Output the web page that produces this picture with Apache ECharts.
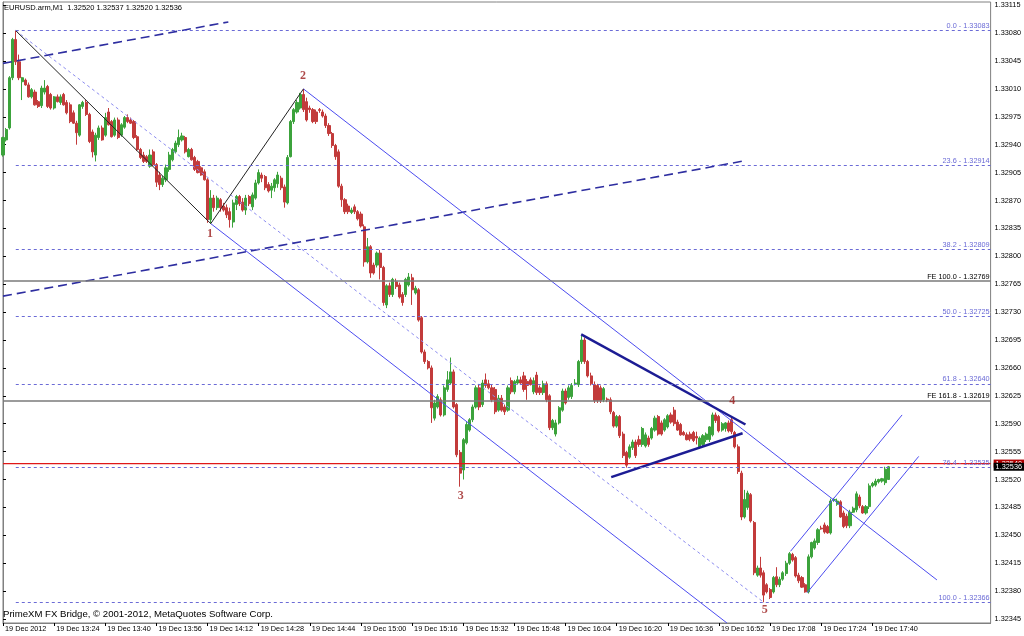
<!DOCTYPE html>
<html><head><meta charset="utf-8">
<script src="https://cdn.jsdelivr.net/npm/echarts@6/dist/echarts.min.js"></script>
<style>html,body{margin:0;padding:0;background:#fff}#c{width:1024px;height:636px}</style>
</head><body><div id="c"></div>
<script>
// ---------- DATA ----------
const symbolTitle = 'EURUSD.arm,M1  1.32520 1.32537 1.32520 1.32536';
const footerText = 'PrimeXM FX Bridge, \u00a9 2001-2012, MetaQuotes Software Corp.';
const startMinute = 13 * 60 + 8;   // first bar 13:08
const totalBars = 310;             // visible bar slots incl. right margin
const timeLabels = ['19 Dec 2012','19 Dec 13:24','19 Dec 13:40','19 Dec 13:56','19 Dec 14:12','19 Dec 14:28',
  '19 Dec 14:44','19 Dec 15:00','19 Dec 15:16','19 Dec 15:32','19 Dec 15:48','19 Dec 16:04','19 Dec 16:20',
  '19 Dec 16:36','19 Dec 16:52','19 Dec 17:08','19 Dec 17:24','19 Dec 17:40'];
const labelEvery = 16;
const yTicks = [1.32345,1.32380,1.32415,1.32450,1.32485,1.32520,1.32555,1.32590,1.32625,1.32660,1.32695,1.32730,
  1.32765,1.32800,1.32835,1.32870,1.32905,1.32940,1.32975,1.33010,1.33045,1.33080,1.33115];
const yMin = 1.32340, yMax = 1.33119;

// candles: [open, high, low, close], one per minute from 13:08
const candles = [
[1.32927,1.32950,1.32925,1.32949],[1.32946,1.32961,1.32944,1.32959],[1.32961,1.33026,1.32959,1.33024],[1.33024,1.33074,1.33021,1.33072],
[1.33072,1.33083,1.33040,1.33044],[1.33044,1.33053,1.33021,1.33024],[1.33019,1.33025,1.32996,1.33024],[1.33021,1.33023,1.33014,1.33015],
[1.33015,1.33018,1.32999,1.33000],[1.33000,1.33011,1.32998,1.33009],[1.33006,1.33009,1.32989,1.32990],[1.32994,1.32996,1.32986,1.32988],
[1.32989,1.33014,1.32986,1.33011],[1.33006,1.33021,1.33003,1.33011],[1.33013,1.33015,1.32986,1.32988],[1.33003,1.33005,1.32984,1.32986],
[1.32986,1.33001,1.32984,1.33000],[1.33000,1.33003,1.32993,1.32994],[1.32993,1.33003,1.32990,1.33000],[1.33003,1.33005,1.32989,1.32990],
[1.32993,1.32996,1.32978,1.32980],[1.32990,1.32993,1.32967,1.32969],[1.32980,1.32983,1.32966,1.32967],[1.32967,1.32970,1.32940,1.32955],
[1.32952,1.32991,1.32950,1.32990],[1.32988,1.32995,1.32985,1.32993],[1.32993,1.32996,1.32976,1.32978],[1.32978,1.32980,1.32942,1.32944],
[1.32956,1.32959,1.32924,1.32931],[1.32927,1.32955,1.32919,1.32952],[1.32949,1.32964,1.32946,1.32961],[1.32961,1.32964,1.32945,1.32946],
[1.32952,1.32980,1.32950,1.32974],[1.32981,1.32986,1.32964,1.32965],[1.32969,1.32971,1.32949,1.32950],[1.32952,1.32974,1.32950,1.32971],
[1.32971,1.32974,1.32947,1.32949],[1.32952,1.32967,1.32950,1.32965],[1.32962,1.32976,1.32960,1.32974],[1.32974,1.32978,1.32967,1.32969],
[1.32971,1.32974,1.32966,1.32967],[1.32969,1.32971,1.32947,1.32949],[1.32950,1.32952,1.32932,1.32934],[1.32934,1.32936,1.32922,1.32924],
[1.32927,1.32931,1.32917,1.32919],[1.32925,1.32927,1.32917,1.32919],[1.32913,1.32934,1.32911,1.32927],[1.32931,1.32934,1.32913,1.32915],
[1.32915,1.32917,1.32887,1.32893],[1.32902,1.32906,1.32883,1.32890],[1.32890,1.32901,1.32887,1.32898],[1.32896,1.32915,1.32893,1.32911],
[1.32909,1.32931,1.32906,1.32927],[1.32921,1.32936,1.32919,1.32934],[1.32931,1.32945,1.32929,1.32942],[1.32940,1.32959,1.32937,1.32949],
[1.32946,1.32955,1.32944,1.32951],[1.32949,1.32951,1.32929,1.32931],[1.32925,1.32936,1.32924,1.32934],[1.32934,1.32936,1.32920,1.32921],
[1.32924,1.32926,1.32907,1.32909],[1.32919,1.32921,1.32904,1.32905],[1.32911,1.32913,1.32901,1.32902],[1.32906,1.32909,1.32895,1.32896],
[1.32896,1.32898,1.32842,1.32846],[1.32846,1.32883,1.32841,1.32873],[1.32873,1.32877,1.32856,1.32861],[1.32861,1.32876,1.32858,1.32873],
[1.32871,1.32873,1.32856,1.32861],[1.32863,1.32867,1.32856,1.32858],[1.32861,1.32865,1.32848,1.32852],[1.32856,1.32861,1.32836,1.32846],
[1.32843,1.32871,1.32836,1.32867],[1.32865,1.32877,1.32858,1.32875],[1.32875,1.32877,1.32863,1.32866],[1.32868,1.32873,1.32856,1.32858],
[1.32858,1.32877,1.32852,1.32873],[1.32875,1.32877,1.32863,1.32866],[1.32862,1.32880,1.32858,1.32877],[1.32873,1.32896,1.32871,1.32892],
[1.32892,1.32909,1.32890,1.32905],[1.32902,1.32905,1.32893,1.32898],[1.32900,1.32902,1.32883,1.32886],[1.32890,1.32893,1.32880,1.32882],
[1.32883,1.32892,1.32873,1.32888],[1.32886,1.32898,1.32881,1.32896],[1.32891,1.32906,1.32886,1.32902],[1.32898,1.32901,1.32883,1.32886],
[1.32887,1.32890,1.32861,1.32868],[1.32867,1.32927,1.32865,1.32924],[1.32925,1.32971,1.32924,1.32969],[1.32969,1.32986,1.32966,1.32984],
[1.32981,1.32996,1.32979,1.32993],[1.32986,1.33005,1.32984,1.33003],[1.33003,1.33010,1.32981,1.32984],[1.32994,1.32999,1.32969,1.32971],
[1.32986,1.32989,1.32980,1.32984],[1.32984,1.32986,1.32967,1.32969],[1.32981,1.32984,1.32966,1.32969],[1.32984,1.32986,1.32980,1.32983],
[1.32981,1.32984,1.32974,1.32976],[1.32976,1.32979,1.32961,1.32964],[1.32964,1.32967,1.32951,1.32954],[1.32954,1.32956,1.32936,1.32939],
[1.32939,1.32941,1.32921,1.32925],[1.32931,1.32934,1.32886,1.32888],[1.32888,1.32891,1.32862,1.32871],[1.32871,1.32873,1.32853,1.32856],
[1.32863,1.32866,1.32853,1.32856],[1.32855,1.32861,1.32853,1.32858],[1.32862,1.32865,1.32853,1.32856],[1.32856,1.32858,1.32845,1.32847],
[1.32853,1.32856,1.32836,1.32838],[1.32837,1.32840,1.32787,1.32793],[1.32793,1.32823,1.32791,1.32812],[1.32812,1.32814,1.32773,1.32779],
[1.32789,1.32792,1.32777,1.32779],[1.32789,1.32806,1.32786,1.32804],[1.32804,1.32808,1.32771,1.32786],[1.32786,1.32788,1.32738,1.32742],
[1.32739,1.32765,1.32735,1.32763],[1.32763,1.32767,1.32749,1.32752],[1.32752,1.32773,1.32749,1.32771],[1.32768,1.32772,1.32759,1.32762],
[1.32764,1.32767,1.32747,1.32749],[1.32752,1.32755,1.32738,1.32742],[1.32752,1.32773,1.32749,1.32771],[1.32764,1.32779,1.32762,1.32774],
[1.32773,1.32778,1.32739,1.32758],[1.32754,1.32763,1.32752,1.32760],[1.32758,1.32760,1.32718,1.32720],[1.32723,1.32725,1.32678,1.32680],
[1.32680,1.32683,1.32665,1.32668],[1.32668,1.32670,1.32658,1.32660],[1.32660,1.32663,1.32591,1.32610],[1.32597,1.32620,1.32594,1.32616],
[1.32611,1.32627,1.32609,1.32624],[1.32620,1.32623,1.32599,1.32601],[1.32601,1.32638,1.32599,1.32635],[1.32633,1.32656,1.32630,1.32645],
[1.32641,1.32673,1.32639,1.32655],[1.32655,1.32658,1.32609,1.32611],[1.32614,1.32616,1.32548,1.32551],[1.32554,1.32557,1.32511,1.32528],
[1.32532,1.32572,1.32520,1.32570],[1.32566,1.32592,1.32564,1.32589],[1.32582,1.32597,1.32580,1.32595],[1.32595,1.32614,1.32592,1.32611],
[1.32611,1.32638,1.32609,1.32635],[1.32635,1.32639,1.32607,1.32611],[1.32614,1.32645,1.32611,1.32641],[1.32645,1.32653,1.32635,1.32638],
[1.32640,1.32645,1.32633,1.32635],[1.32635,1.32639,1.32617,1.32620],[1.32633,1.32636,1.32602,1.32605],[1.32607,1.32626,1.32605,1.32622],
[1.32622,1.32626,1.32605,1.32607],[1.32611,1.32614,1.32601,1.32605],[1.32607,1.32638,1.32605,1.32635],[1.32644,1.32648,1.32627,1.32630],
[1.32630,1.32645,1.32627,1.32643],[1.32641,1.32650,1.32639,1.32645],[1.32645,1.32649,1.32640,1.32641],[1.32650,1.32655,1.32630,1.32633],
[1.32643,1.32646,1.32620,1.32638],[1.32645,1.32648,1.32638,1.32639],[1.32630,1.32648,1.32627,1.32644],[1.32651,1.32655,1.32626,1.32629],
[1.32635,1.32638,1.32626,1.32629],[1.32629,1.32644,1.32626,1.32640],[1.32640,1.32643,1.32617,1.32620],[1.32625,1.32627,1.32582,1.32585],
[1.32585,1.32596,1.32582,1.32594],[1.32577,1.32595,1.32574,1.32591],[1.32591,1.32612,1.32589,1.32610],[1.32607,1.32634,1.32605,1.32631],
[1.32631,1.32634,1.32614,1.32616],[1.32623,1.32638,1.32620,1.32635],[1.32624,1.32641,1.32621,1.32638],[1.32640,1.32646,1.32638,1.32641],
[1.32639,1.32670,1.32636,1.32668],[1.32668,1.32700,1.32665,1.32695],[1.32695,1.32698,1.32665,1.32668],[1.32668,1.32670,1.32648,1.32650],
[1.32650,1.32654,1.32638,1.32640],[1.32639,1.32643,1.32616,1.32619],[1.32638,1.32640,1.32616,1.32619],[1.32635,1.32638,1.32616,1.32619],
[1.32620,1.32636,1.32617,1.32634],[1.32621,1.32623,1.32617,1.32620],[1.32620,1.32623,1.32602,1.32605],[1.32604,1.32606,1.32585,1.32587],
[1.32587,1.32601,1.32585,1.32599],[1.32599,1.32601,1.32572,1.32575],[1.32577,1.32580,1.32547,1.32550],[1.32554,1.32556,1.32535,1.32538],
[1.32548,1.32564,1.32546,1.32561],[1.32560,1.32570,1.32557,1.32567],[1.32567,1.32570,1.32547,1.32550],[1.32570,1.32575,1.32561,1.32564],
[1.32564,1.32586,1.32561,1.32584],[1.32562,1.32579,1.32560,1.32576],[1.32572,1.32575,1.32561,1.32564],[1.32572,1.32586,1.32570,1.32584],
[1.32582,1.32600,1.32580,1.32597],[1.32599,1.32601,1.32575,1.32577],[1.32591,1.32594,1.32575,1.32577],[1.32582,1.32597,1.32580,1.32595],
[1.32586,1.32602,1.32584,1.32600],[1.32601,1.32604,1.32590,1.32592],[1.32607,1.32611,1.32587,1.32590],[1.32592,1.32595,1.32581,1.32582],
[1.32589,1.32591,1.32575,1.32576],[1.32579,1.32581,1.32575,1.32576],[1.32576,1.32579,1.32569,1.32570],[1.32577,1.32580,1.32568,1.32571],
[1.32579,1.32581,1.32567,1.32569],[1.32574,1.32580,1.32564,1.32572],[1.32561,1.32574,1.32559,1.32572],[1.32564,1.32577,1.32561,1.32575],
[1.32570,1.32579,1.32567,1.32577],[1.32570,1.32587,1.32567,1.32586],[1.32576,1.32604,1.32574,1.32601],[1.32601,1.32604,1.32591,1.32594],
[1.32599,1.32601,1.32579,1.32581],[1.32582,1.32592,1.32580,1.32590],[1.32584,1.32592,1.32580,1.32591],[1.32591,1.32594,1.32579,1.32581],
[1.32595,1.32599,1.32577,1.32580],[1.32579,1.32581,1.32559,1.32561],[1.32561,1.32564,1.32527,1.32530],[1.32528,1.32531,1.32469,1.32473],
[1.32473,1.32507,1.32471,1.32495],[1.32485,1.32506,1.32482,1.32503],[1.32501,1.32503,1.32466,1.32468],[1.32466,1.32468,1.32400,1.32403],
[1.32400,1.32412,1.32398,1.32409],[1.32409,1.32423,1.32397,1.32400],[1.32403,1.32406,1.32366,1.32375],[1.32388,1.32390,1.32377,1.32379],
[1.32382,1.32384,1.32370,1.32372],[1.32379,1.32399,1.32377,1.32397],[1.32398,1.32410,1.32385,1.32388],[1.32388,1.32398,1.32385,1.32395],
[1.32395,1.32405,1.32393,1.32403],[1.32402,1.32418,1.32399,1.32415],[1.32415,1.32429,1.32413,1.32427],[1.32426,1.32428,1.32417,1.32419],
[1.32422,1.32424,1.32397,1.32399],[1.32400,1.32403,1.32390,1.32393],[1.32397,1.32399,1.32384,1.32385],[1.32388,1.32390,1.32378,1.32379],
[1.32379,1.32426,1.32377,1.32423],[1.32423,1.32442,1.32421,1.32441],[1.32434,1.32446,1.32432,1.32443],[1.32441,1.32459,1.32438,1.32457],
[1.32459,1.32462,1.32457,1.32458],[1.32463,1.32466,1.32452,1.32454],[1.32461,1.32463,1.32452,1.32453],[1.32453,1.32496,1.32451,1.32493],
[1.32494,1.32497,1.32492,1.32495],[1.32489,1.32496,1.32487,1.32493],[1.32492,1.32494,1.32472,1.32473],[1.32478,1.32481,1.32459,1.32461],
[1.32474,1.32477,1.32459,1.32462],[1.32462,1.32482,1.32459,1.32479],[1.32479,1.32486,1.32478,1.32484],[1.32482,1.32505,1.32479,1.32502],
[1.32498,1.32501,1.32484,1.32487],[1.32486,1.32488,1.32477,1.32478],[1.32478,1.32488,1.32476,1.32486],[1.32486,1.32515,1.32483,1.32512],
[1.32512,1.32517,1.32510,1.32515],[1.32513,1.32521,1.32511,1.32518],[1.32517,1.32521,1.32515,1.32520],[1.32518,1.32522,1.32516,1.32521],
[1.32516,1.32536,1.32513,1.32533],[1.32520,1.32537,1.32520,1.32536]
];

// Fibonacci retracement (drawn from bar 4 high to bar 238 low)
const fibStartBar = 4;
const fibLevels = [['0.0',1.33083],['23.6',1.32914],['38.2',1.32809],['50.0',1.32725],['61.8',1.32640],['76.4',1.32535],['100.0',1.32366]];
const feLevels = [['FE 100.0',1.32769],['FE 161.8',1.32619]];
const bidPrice = 1.32536, askPrice = 1.32540;

// objects: [bar index, price]
const wavePath = [[4,1.33083],[65,1.32841],[94,1.33010]];
const fibDiagonal = [[4,1.33083],[238,1.32366]];
const dashedUpper = [[0,1.33042],[70.5,1.33094]];
const dashedLower = [[0,1.32750],[232.3,1.32920]];
const channelUpper = [[94,1.33010],[292.2,1.32394]];
const channelLower = [[65,1.32841],[226.5,1.32340]];
const triangleUpper = [[180.9,1.32702],[232.3,1.32589]];
const triangleLower = [[190.3,1.32523],[231.4,1.32578]];
const riseUpper = [[246.4,1.32430],[281.3,1.32601]];
const riseLower = [[251.6,1.32378],[286.5,1.32549]];
const waveLabels = [['1',64.8,1.32828],['2',93.9,1.33026],['3',143.2,1.32499],['4',228.2,1.32618],['5',238.3,1.32356]];

// ---------- CHART ----------
const FONT = "'Liberation Sans',Arial,sans-serif";
const SMALL = 7.3;
const pad = n => (n < 10 ? '0' : '') + n;
const categories = [];
for (let i = 0; i < totalBars; i++) { const m = startMinute + i; categories.push(pad(Math.floor(m / 60)) + ':' + pad(m % 60)); }
const lastBar = totalBars - 1;
const ecData = candles.map(c => [c[0], c[3], c[2], c[1]]);
const isLabelIdx = i => i % labelEvery === 0 && i / labelEvery < timeLabels.length;

function lineS(pts, color, width, type, z, extra) {
  return Object.assign({type: 'line', xAxisIndex: 1, yAxisIndex: 0, data: pts, symbol: 'none', showSymbol: false,
    lineStyle: {color: color, width: width, type: type}, silent: true, z: z || 3, clip: true}, extra || {});
}
function priceTag(price, bg, z) {
  return lineS([[0, price], [lastBar, price]], 'rgba(0,0,0,0)', 0, 'solid', z, {
    markLine: {symbol: ['none', 'none'], silent: true, animation: false,
      lineStyle: {color: 'rgba(0,0,0,0)', width: 0},
      label: {show: true, position: 'end', distance: 3, formatter: () => price.toFixed(5), color: '#fff', backgroundColor: bg,
        padding: [1, 2, 0, 2], fontFamily: FONT, fontSize: SMALL},
      data: [[{coord: [0, price]}, {coord: [lastBar, price]}]]}});
}

const fibMarks = fibLevels.map(l => [
  {name: l[0] + ' - ' + l[1].toFixed(5), coord: [fibStartBar, l[1]]},
  {coord: [lastBar, l[1]]}
]);
const feMarks = feLevels.map(l => [
  {name: l[0] + ' - ' + l[1].toFixed(5), coord: [0, l[1]]},
  {coord: [lastBar, l[1]]}
]);

const option = {
  animation: false,
  backgroundColor: '#ffffff',
  title: [
    {text: symbolTitle, left: 4, top: 4, padding: 0, textStyle: {fontFamily: FONT, fontSize: 7.5, fontWeight: 'normal', color: '#000'}},
    {text: footerText, left: 3, top: 609, padding: 0, textStyle: {fontFamily: FONT, fontSize: 9.6, fontWeight: 'normal', color: '#000'}}
  ],
  grid: {left: 3, right: 30, top: 2, bottom: 13, show: true, borderColor: '#808080', borderWidth: 1, backgroundColor: '#fff'},
  xAxis: [
    {type: 'category', data: categories, boundaryGap: false,
     axisLine: {show: true, lineStyle: {color: '#808080'}},
     axisTick: {show: true, length: 3, interval: (i) => isLabelIdx(i), lineStyle: {color: '#000'}},
     axisLabel: {show: true, interval: (i) => isLabelIdx(i), formatter: (v, i) => timeLabels[i / labelEvery] || '',
       align: 'left', margin: 2, padding: [0, 0, 0, 2], fontFamily: FONT, fontSize: SMALL, color: '#000'},
     splitLine: {show: false}},
    {type: 'value', min: 0, max: lastBar, show: false}
  ],
  yAxis: [{type: 'value', position: 'right', min: yMin, max: yMax, scale: true,
    axisLine: {show: true, lineStyle: {color: '#808080'}},
    axisTick: {show: true, length: 3, customValues: yTicks, lineStyle: {color: '#000'}},
    axisLabel: {show: true, customValues: yTicks, formatter: v => v.toFixed(5), margin: 4, fontFamily: FONT, fontSize: SMALL, color: '#000'},
    splitLine: {show: false}}],
  series: [
    {type: 'candlestick', xAxisIndex: 0, yAxisIndex: 0, data: ecData, barWidth: 2.6, z: 2,
     itemStyle: {color: '#3ca33c', color0: '#c23b3b', borderColor: '#3ca33c', borderColor0: '#c23b3b', borderWidth: 1}},
    lineS(fibDiagonal, '#8c8cf0', 1, [3, 3], 3, {
      markLine: {symbol: ['none', 'none'], silent: true, animation: false,
        lineStyle: {color: '#6b6bd6', width: 1, type: [3, 3]},
        label: {show: true, position: 'insideEndTop', distance: 1, formatter: p => p.name, color: '#6b6bd6', fontFamily: FONT, fontSize: SMALL},
        data: fibMarks}}),
    lineS(wavePath, '#222222', 1, 'solid', 4, {
      markLine: {symbol: ['none', 'none'], silent: true, animation: false,
        lineStyle: {color: '#7a7a7a', width: 1.6, type: 'solid'},
        label: {show: true, position: 'insideEndTop', distance: 1, formatter: p => p.name, color: '#000', fontFamily: FONT, fontSize: SMALL},
        data: feMarks}}),
    lineS([[0, askPrice], [lastBar, askPrice]], '#e01818', 1.3, 'solid', 3),
    lineS(dashedUpper, '#2e2ea0', 1.6, [9, 5], 3),
    lineS(dashedLower, '#2e2ea0', 1.6, [9, 5], 3),
    lineS(channelUpper, '#4c4cf0', 1, 'solid', 3),
    lineS(channelLower, '#4c4cf0', 1, 'solid', 3),
    lineS(triangleUpper, '#1c1c94', 2.5, 'solid', 4),
    lineS(triangleLower, '#1c1c94', 2.5, 'solid', 4),
    lineS(riseUpper, '#4c4cf0', 1, 'solid', 3),
    lineS(riseLower, '#4c4cf0', 1, 'solid', 3),
    priceTag(askPrice, '#b00000', 6),
    priceTag(bidPrice, '#000000', 7),
    {type: 'scatter', xAxisIndex: 1, yAxisIndex: 0, symbolSize: 1, itemStyle: {color: 'rgba(0,0,0,0)'}, silent: true, z: 5,
     data: waveLabels.map(w => ({name: w[0], value: [w[1], w[2]]})),
     label: {show: true, position: 'inside', formatter: p => p.name, color: '#9a1c1c', fontFamily: "'Liberation Serif','Times New Roman',serif",
       fontWeight: 'bold', fontSize: 12}}
  ]
};
const chart = echarts.init(document.getElementById('c'));
chart.setOption(option);
</script></body></html>
